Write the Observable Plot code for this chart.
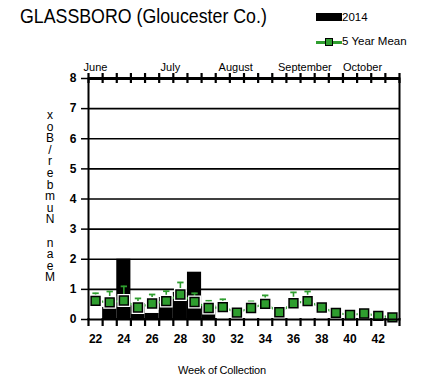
<!DOCTYPE html>
<html><head><meta charset="utf-8">
<script src="https://cdn.jsdelivr.net/npm/d3@7"></script>
<script src="https://cdn.jsdelivr.net/npm/@observablehq/plot@0.6"></script>
<style>
body{margin:0;background:#fff;}
#wrap{position:relative;width:432px;height:377px;font-family:"Liberation Sans",Arial,sans-serif;overflow:hidden;color:#000}
#wrap svg{position:absolute;left:0;top:0}
.abs{position:absolute;line-height:1;white-space:nowrap}
</style></head><body><div id="wrap"></div>
<script>
const weeks    = [22,23,24,25,26,27,28,29,30,31,32,33,34,35,36,37,38,39,40,41,42,43];
const mean5    = [0.62,0.57,0.63,0.40,0.53,0.61,0.83,0.58,0.38,0.41,0.23,0.38,0.52,0.24,0.54,0.61,0.40,0.22,0.15,0.20,0.12,0.07];
const upper5   = [0.87,0.93,1.10,0.70,0.83,0.94,1.23,0.87,0.62,0.67,null,0.60,0.80,null,0.90,0.93,null,null,null,null,null,null];
const obs2014  = [0,0.40,2.00,0.53,0.20,0.73,0.90,1.57,0.47,0,0,0,0,0,0,0,0,0,0,0,0,0];
const tickWeeks = [22,24,26,28,30,32,34,36,38,40,42];
const yTicks = [0,1,2,3,4,5,6,7,8];
const monthNames = ["June","July","August","September","October"];
const monthStarts = [21.15,26.6,30.7,34.9,39.5];
const titleText = "GLASSBORO (Gloucester Co.)";
const legendLabels = ["2014","5 Year Mean"];
const xLabel = "Week of Collection";
const yLabel = "Mean Number/Box";

const W = 432, H = 377, mT = 78, mB = 58;
const frameH = H - mT - mB;
const yMin = yTicks[0], yMax = yTicks[yTicks.length-1];
const green = "#2f9e2f";
const table = weeks.map((w,i)=>({week:w, x1:w-0.5, x2:w+0.5, obs:obs2014[i], mean:mean5[i], upper:upper5[i]}));
const withErr = table.filter(d=>d.upper!=null);
const bTable = weeks.map(w=>({b:w-0.5})).concat([{b:weeks[weeks.length-1]+0.5}]);
const capSymbol = {draw(ctx,size){const w=Math.sqrt(size); ctx.moveTo(-w/2,0); ctx.lineTo(w/2,0);}};

const chart = Plot.plot({
  width:W, height:H, marginLeft:88, marginRight:33, marginTop:mT, marginBottom:mB,
  style:{fontFamily:"Liberation Sans, Arial, sans-serif", background:"transparent", color:"#000", overflow:"visible"},
  x:{domain:[21.5,43.5], axis:null},
  y:{domain:[yMin,yMax], axis:null},
  marks:[
    Plot.ruleY(d3.range(1,8), {stroke:"#000", strokeWidth:1.6}),
    Plot.rectY(table, {x1:"x1", x2:"x2", y:"obs", fill:"#000"}),
    Plot.ruleX(withErr, {x:"week", y1:"mean", y2:"upper", stroke:green, strokeWidth:1.6}),
    Plot.dot(withErr, {x:"week", y:"upper", symbol:capSymbol, r:3.6, fill:"none", stroke:green, strokeWidth:1.8}),
    Plot.line(table, {x:"week", y:"mean", stroke:green, strokeWidth:2.2}),
    Plot.dot(table, {x:"week", y:"mean", symbol:"square", r:5.3, fill:"none", stroke:"#fff", strokeWidth:3.5}),
    Plot.dot(table, {x:"week", y:"mean", symbol:"square", r:5.0, fill:green, stroke:"#000", strokeWidth:1.5}),
    Plot.frame({stroke:"#000", strokeWidth:2}),
    Plot.ruleY([yMax], {stroke:"#000", strokeWidth:3}),
    Plot.tickX(bTable, {x:"b", insetTop:frameH - 1, insetBottom:-7, stroke:"#000", strokeWidth:2.2}),
    Plot.tickX(bTable, {x:"b", insetTop:-5, insetBottom:frameH - 5, stroke:"#000", strokeWidth:2.2}),
    Plot.axisY({ticks:yTicks, tickSize:7, tickPadding:5, fontSize:12, fontWeight:"bold", label:null, strokeWidth:1.5}),
    Plot.axisX({ticks:tickWeeks, tickSize:0, tickPadding:15, fontSize:12, fontWeight:"bold", label:null}),
    Plot.text(monthNames, {x:(d,i)=>monthStarts[i], text:d=>d, frameAnchor:"top", dy:-8, textAnchor:"start", lineAnchor:"bottom", fontSize:11})
  ]
});
const wrap = document.getElementById("wrap");
wrap.appendChild(chart);

function addText(txt, left, top, size, extra){
  const d = document.createElement("div");
  d.className = "abs";
  d.textContent = txt;
  d.style.left = left+"px"; d.style.top = top+"px"; d.style.fontSize = size+"px";
  Object.assign(d.style, extra||{});
  wrap.appendChild(d);
  return d;
}
function addBox(left, top, w, h, style){
  const d = document.createElement("div");
  d.style.position="absolute"; d.style.left=left+"px"; d.style.top=top+"px";
  d.style.width=w+"px"; d.style.height=h+"px"; d.style.boxSizing="border-box";
  Object.assign(d.style, style);
  wrap.appendChild(d);
}
// title
addText(titleText, 20, 5, 21, {transform:"scaleX(0.846)", transformOrigin:"0 0"});
// legend
addBox(316, 13, 26, 8, {background:"#000"});
addText(legendLabels[0], 342, 12, 11.5);
addBox(316, 41, 26, 2.5, {background:green});
addBox(324.5, 38.2, 8, 8, {background:green, border:"1.5px solid #000"});
addText(legendLabels[1], 342, 36.3, 11.5);
// x label
const xl = addText(xLabel, 0, 364.5, 11, {letterSpacing:"-0.2px"});
xl.style.left = (222 - xl.offsetWidth/2) + "px";
// y label: one vertical upright text, reversed
const yl = addText(yLabel.split("").reverse().join(""), 36, 108, 12, {writingMode:"vertical-rl", textOrientation:"upright", width:"20px"});
const h0 = yl.offsetHeight;
const n = yLabel.length;
yl.style.letterSpacing = ((174 - h0)/n) + "px";
yl.style.left = (46 - yl.offsetWidth/2) + "px";
</script></body></html>
